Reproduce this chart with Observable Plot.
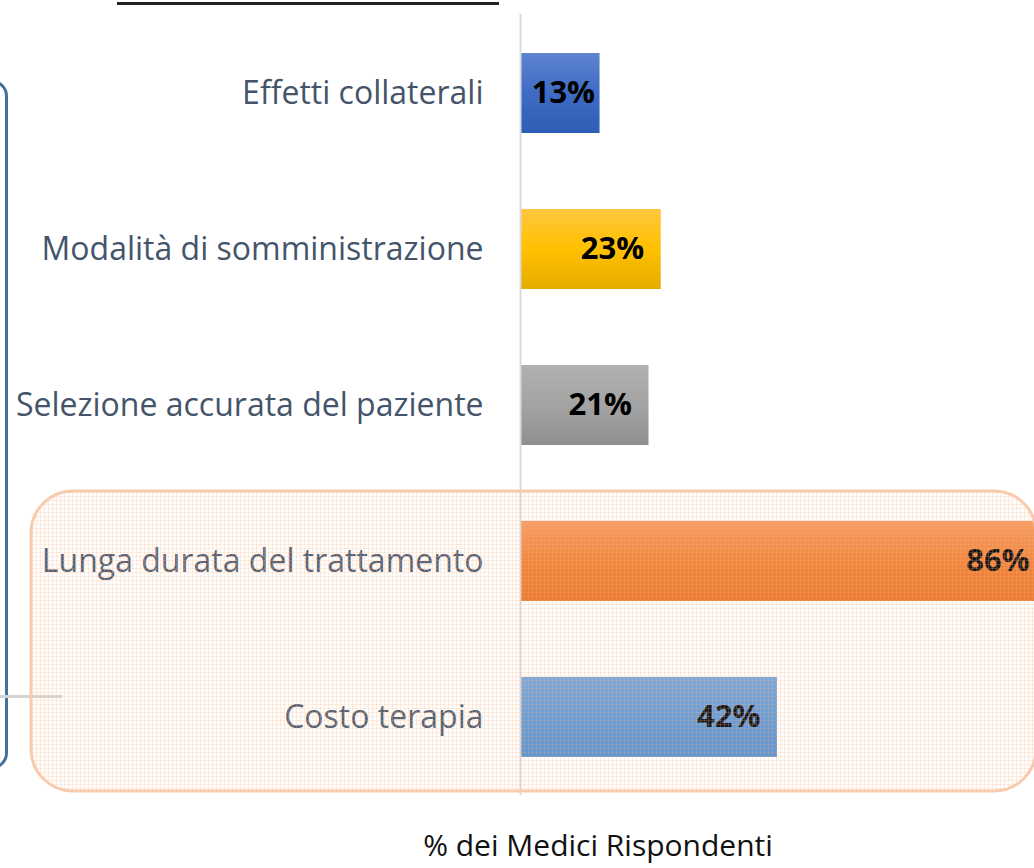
<!DOCTYPE html>
<html>
<head>
<meta charset="utf-8">
<script src="https://cdn.jsdelivr.net/npm/d3@7"></script>
<script src="https://cdn.jsdelivr.net/npm/@observablehq/plot@0.6"></script>
<style>
  html, body { margin: 0; padding: 0; background: #fff; overflow: hidden; }
  #wrap { position: relative; width: 1034px; height: 868px; overflow: hidden; font-family: "Open Sans", sans-serif; }
  #chart { position: absolute; left: 0; top: 0; }
  #chart svg { overflow: visible; }
  #underline { position: absolute; left: 117px; top: 2px; width: 382px; height: 3px; background: #222; }
  #bluebox { position: absolute; left: -40px; top: 80px; width: 42px; height: 683px; border: 3px solid #41719C; border-radius: 16px; box-sizing: content-box; }
  #grayline { position: absolute; left: 0; top: 695px; width: 62px; height: 3px; background: #d4d4d4; }
  #xlabel { position: absolute; left: 0; width: 1196px; top: 824px; text-align: center; font-size: 30px; color: #111; font-family: "Open Sans", sans-serif; }
</style>
</head>
<body>
<div id="wrap">
  <div id="underline"></div>
  <div id="bluebox"></div>
  <div id="grayline"></div>
  <div id="chart"></div>
  <div id="xlabel"></div>
</div>
<script>
const categories = ["Effetti collaterali", "Modalità di somministrazione", "Selezione accurata del paziente", "Lunga durata del trattamento", "Costo terapia"];
const values = [13, 23, 21, 86, 42];
const highlighted = ["Lunga durata del trattamento", "Costo terapia"];
const xLabel = "% dei Medici Rispondenti";

document.getElementById("xlabel").textContent = xLabel;

const gradIds = ["gBlue", "gYellow", "gGray", "gOrange", "gLight"];
const data = categories.map((c, i) => ({category: c, value: values[i], grad: `url(#${gradIds[i]})`}));

const plot = Plot.plot({
  width: 1034,
  height: 810,
  marginLeft: 520,
  marginRight: 0,
  marginTop: 14,
  marginBottom: 15,
  x: {domain: [0, 84], axis: null},
  y: {domain: categories, paddingInner: 0.49, paddingOuter: 0.245, label: null, tickSize: 0, tickPadding: 37},
  color: {type: "identity"},
  style: {fontFamily: "Open Sans, sans-serif", fontSize: "32px", color: "#44546A", background: "transparent", overflow: "visible"},
  marks: [
    Plot.barX(data, {x: "value", y: "category", fill: "grad"}),
    Plot.ruleX([0], {stroke: "#d9d9d9", strokeWidth: 2}),
    Plot.text(data.filter(d => d.value >= 20), {x: "value", y: "category", text: d => d.value + "%", textAnchor: "end", dx: -17, fontWeight: "bold", fontSize: 31, fill: "#000"}),
    Plot.text(data.filter(d => d.value < 20), {x: "value", y: "category", text: d => d.value + "%", textAnchor: "end", dx: -5, fontWeight: "bold", fontSize: 31, fill: "#000"})
  ]
});
document.getElementById("chart").appendChild(plot);

const NS = "http://www.w3.org/2000/svg";
const defs = document.createElementNS(NS, "defs");
defs.innerHTML = `
  <linearGradient id="gBlue" x1="0" y1="0" x2="0" y2="1">
    <stop offset="0" stop-color="#5E84D0"/><stop offset="0.5" stop-color="#3F6BC4"/><stop offset="1" stop-color="#2E5DB6"/>
  </linearGradient>
  <linearGradient id="gYellow" x1="0" y1="0" x2="0" y2="1">
    <stop offset="0" stop-color="#FFC73E"/><stop offset="0.5" stop-color="#FFC000"/><stop offset="1" stop-color="#E5AC00"/>
  </linearGradient>
  <linearGradient id="gGray" x1="0" y1="0" x2="0" y2="1">
    <stop offset="0" stop-color="#B1B1B1"/><stop offset="0.5" stop-color="#A3A3A3"/><stop offset="1" stop-color="#8F8F8F"/>
  </linearGradient>
  <linearGradient id="gOrange" x1="0" y1="0" x2="0" y2="1">
    <stop offset="0" stop-color="#F5955A"/><stop offset="0.5" stop-color="#F07B2E"/><stop offset="1" stop-color="#E86E1E"/>
  </linearGradient>
  <linearGradient id="gLight" x1="0" y1="0" x2="0" y2="1">
    <stop offset="0" stop-color="#6FA0DA"/><stop offset="0.5" stop-color="#5A95D6"/><stop offset="1" stop-color="#4E8BCF"/>
  </linearGradient>
  <pattern id="tex" width="4" height="4" patternUnits="userSpaceOnUse">
    <rect width="4" height="4" fill="rgba(252,232,218,0.10)"/>
    <path d="M0 0.5H4M0.5 0V4" stroke="rgba(245,175,128,0.22)" stroke-width="1"/>
  </pattern>`;
plot.insertBefore(defs, plot.firstChild);

// highlight box around the two highlighted categories, from the y scale
const yScale = plot.scale("y");
const bandStart = c => yScale.apply(c);
const bw = yScale.bandwidth;
const boxTop = bandStart(highlighted[0]) - 30;
const boxBottom = bandStart(highlighted[highlighted.length - 1]) + bw + 34;
const box = document.createElementNS(NS, "rect");
box.setAttribute("x", 31);
box.setAttribute("y", boxTop);
box.setAttribute("width", 1005);
box.setAttribute("height", boxBottom - boxTop);
box.setAttribute("rx", 42);
box.setAttribute("fill", "url(#tex)");
box.setAttribute("stroke", "#F8CBAD");
box.setAttribute("stroke-width", 3);
plot.appendChild(box);
</script>
</body>
</html>
